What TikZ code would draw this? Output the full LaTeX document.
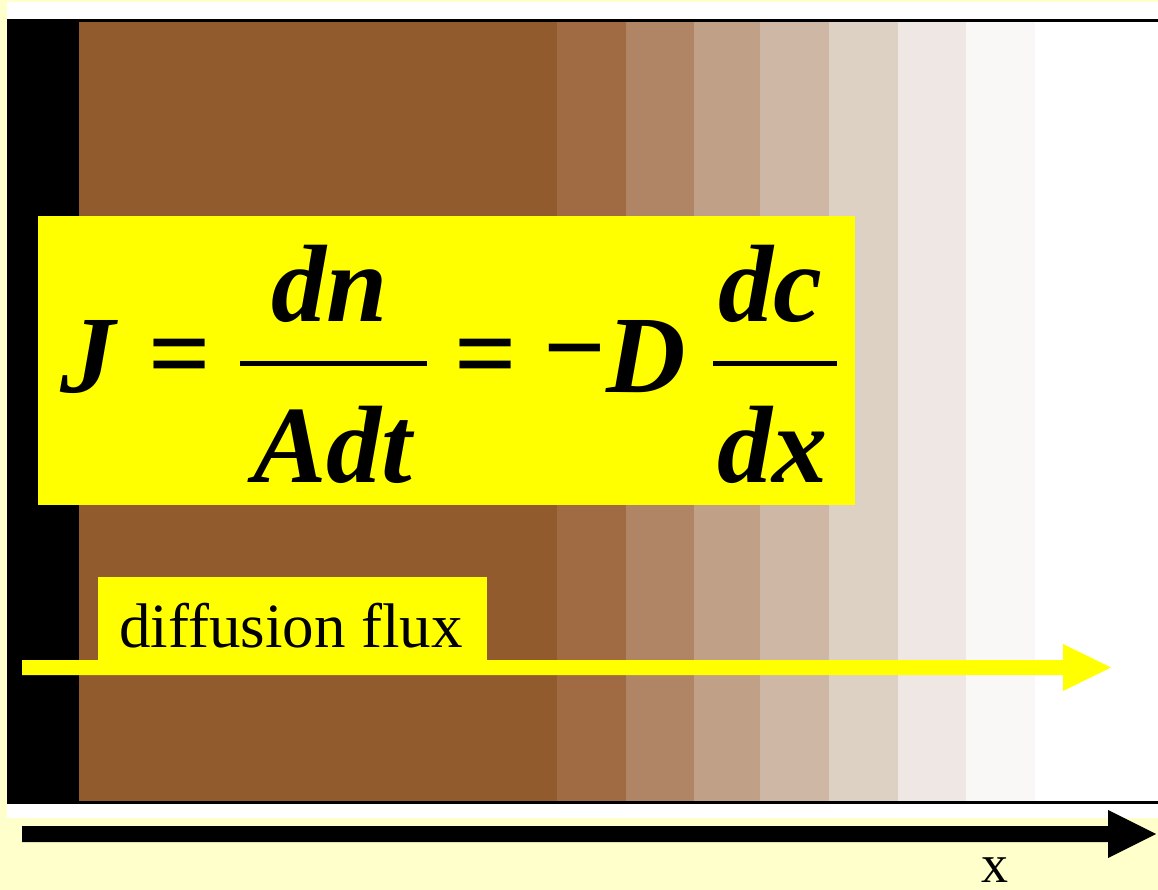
\documentclass[tikz,border=0pt]{standalone}
\usepackage{fontspec}
\setmainfont{Liberation Serif}
\definecolor{bgyel}{RGB}{255,255,204}
\definecolor{brown0}{RGB}{146,91,46}
\definecolor{brown1}{RGB}{160,106,66}
\definecolor{brown2}{RGB}{176,133,101}
\definecolor{brown3}{RGB}{192,160,134}
\definecolor{brown4}{RGB}{206,183,164}
\definecolor{brown5}{RGB}{221,209,195}
\definecolor{brown6}{RGB}{238,231,227}
\definecolor{brown7}{RGB}{250,248,246}
\definecolor{hiyel}{RGB}{255,255,0}
\tikzset{
  fbig/.style={inner sep=0pt, anchor=base, font=\fontsize{110}{120}\selectfont\bfseries\itshape},
  fsym/.style={inner sep=0pt, anchor=center, font=\fontsize{110}{120}\selectfont\bfseries},
  fracbar/.style={line width=5pt},
  lbl/.style={inner sep=0pt, anchor=base}
}
\begin{document}
\begin{tikzpicture}[x=1pt,y=-1pt]
\useasboundingbox (0,0) rectangle (1158,890);
\fill[bgyel] (0,0) rectangle (1158,890);
% frame
\fill[white] (7,2) rectangle (1158,818);
\fill[black] (7,19) rectangle (1158,22);
\fill[black] (7,801) rectangle (1158,804);
\fill[black] (7,22) rectangle (79,801);
\fill[brown0] (79,22) rectangle (557,801);
\fill[brown1] (557,22) rectangle (626,801);
\fill[brown2] (626,22) rectangle (694,801);
\fill[brown3] (694,22) rectangle (760,801);
\fill[brown4] (760,22) rectangle (829,801);
\fill[brown5] (829,22) rectangle (898,801);
\fill[brown6] (898,22) rectangle (966,801);
\fill[brown7] (966,22) rectangle (1035,801);
% formula box
\fill[hiyel] (38,216) rectangle (855,505);
\node[fbig] (J) at (88,392) {J};
\node[fsym] (eq1) at (180,365) {=};
\node[fbig] (dn) at (330,321) {dn};
\draw[fracbar] (240,363) coordinate (b1l) -- (427,363) coordinate (b1r);
\node[fbig] (Adt) at (333,482) {Adt};
\node[fsym] (eq2) at (486,365) {=};
\node[fsym] (minus) at (575,364) {−};
\node[fbig] (D) at (646,392) {D};
\node[fbig] (dc) at (770,321) {dc};
\draw[fracbar] (713,363) coordinate (b2l) -- (837,363) coordinate (b2r);
\node[fbig] (dx) at (772,482) {dx};
% yellow flux arrow
\fill[hiyel] (98,577) rectangle (487,667);
\fill[hiyel] (22,660) -- (1063,660) -- (1063,644) -- (1111,667.5) -- (1063,691) -- (1063,675) -- (22,675) -- cycle;
\node[lbl, font=\fontsize{63}{70}\selectfont] (flux) at (291,647) {diffusion flux};
% x axis arrow
\fill[black] (22,826) -- (1108,826) -- (1108,810) -- (1156,834) -- (1108,858) -- (1108,842) -- (22,842) -- cycle;
\node[lbl, font=\fontsize{54}{58}\selectfont] (xl) at (995,882) {x};
\end{tikzpicture}
\end{document}
